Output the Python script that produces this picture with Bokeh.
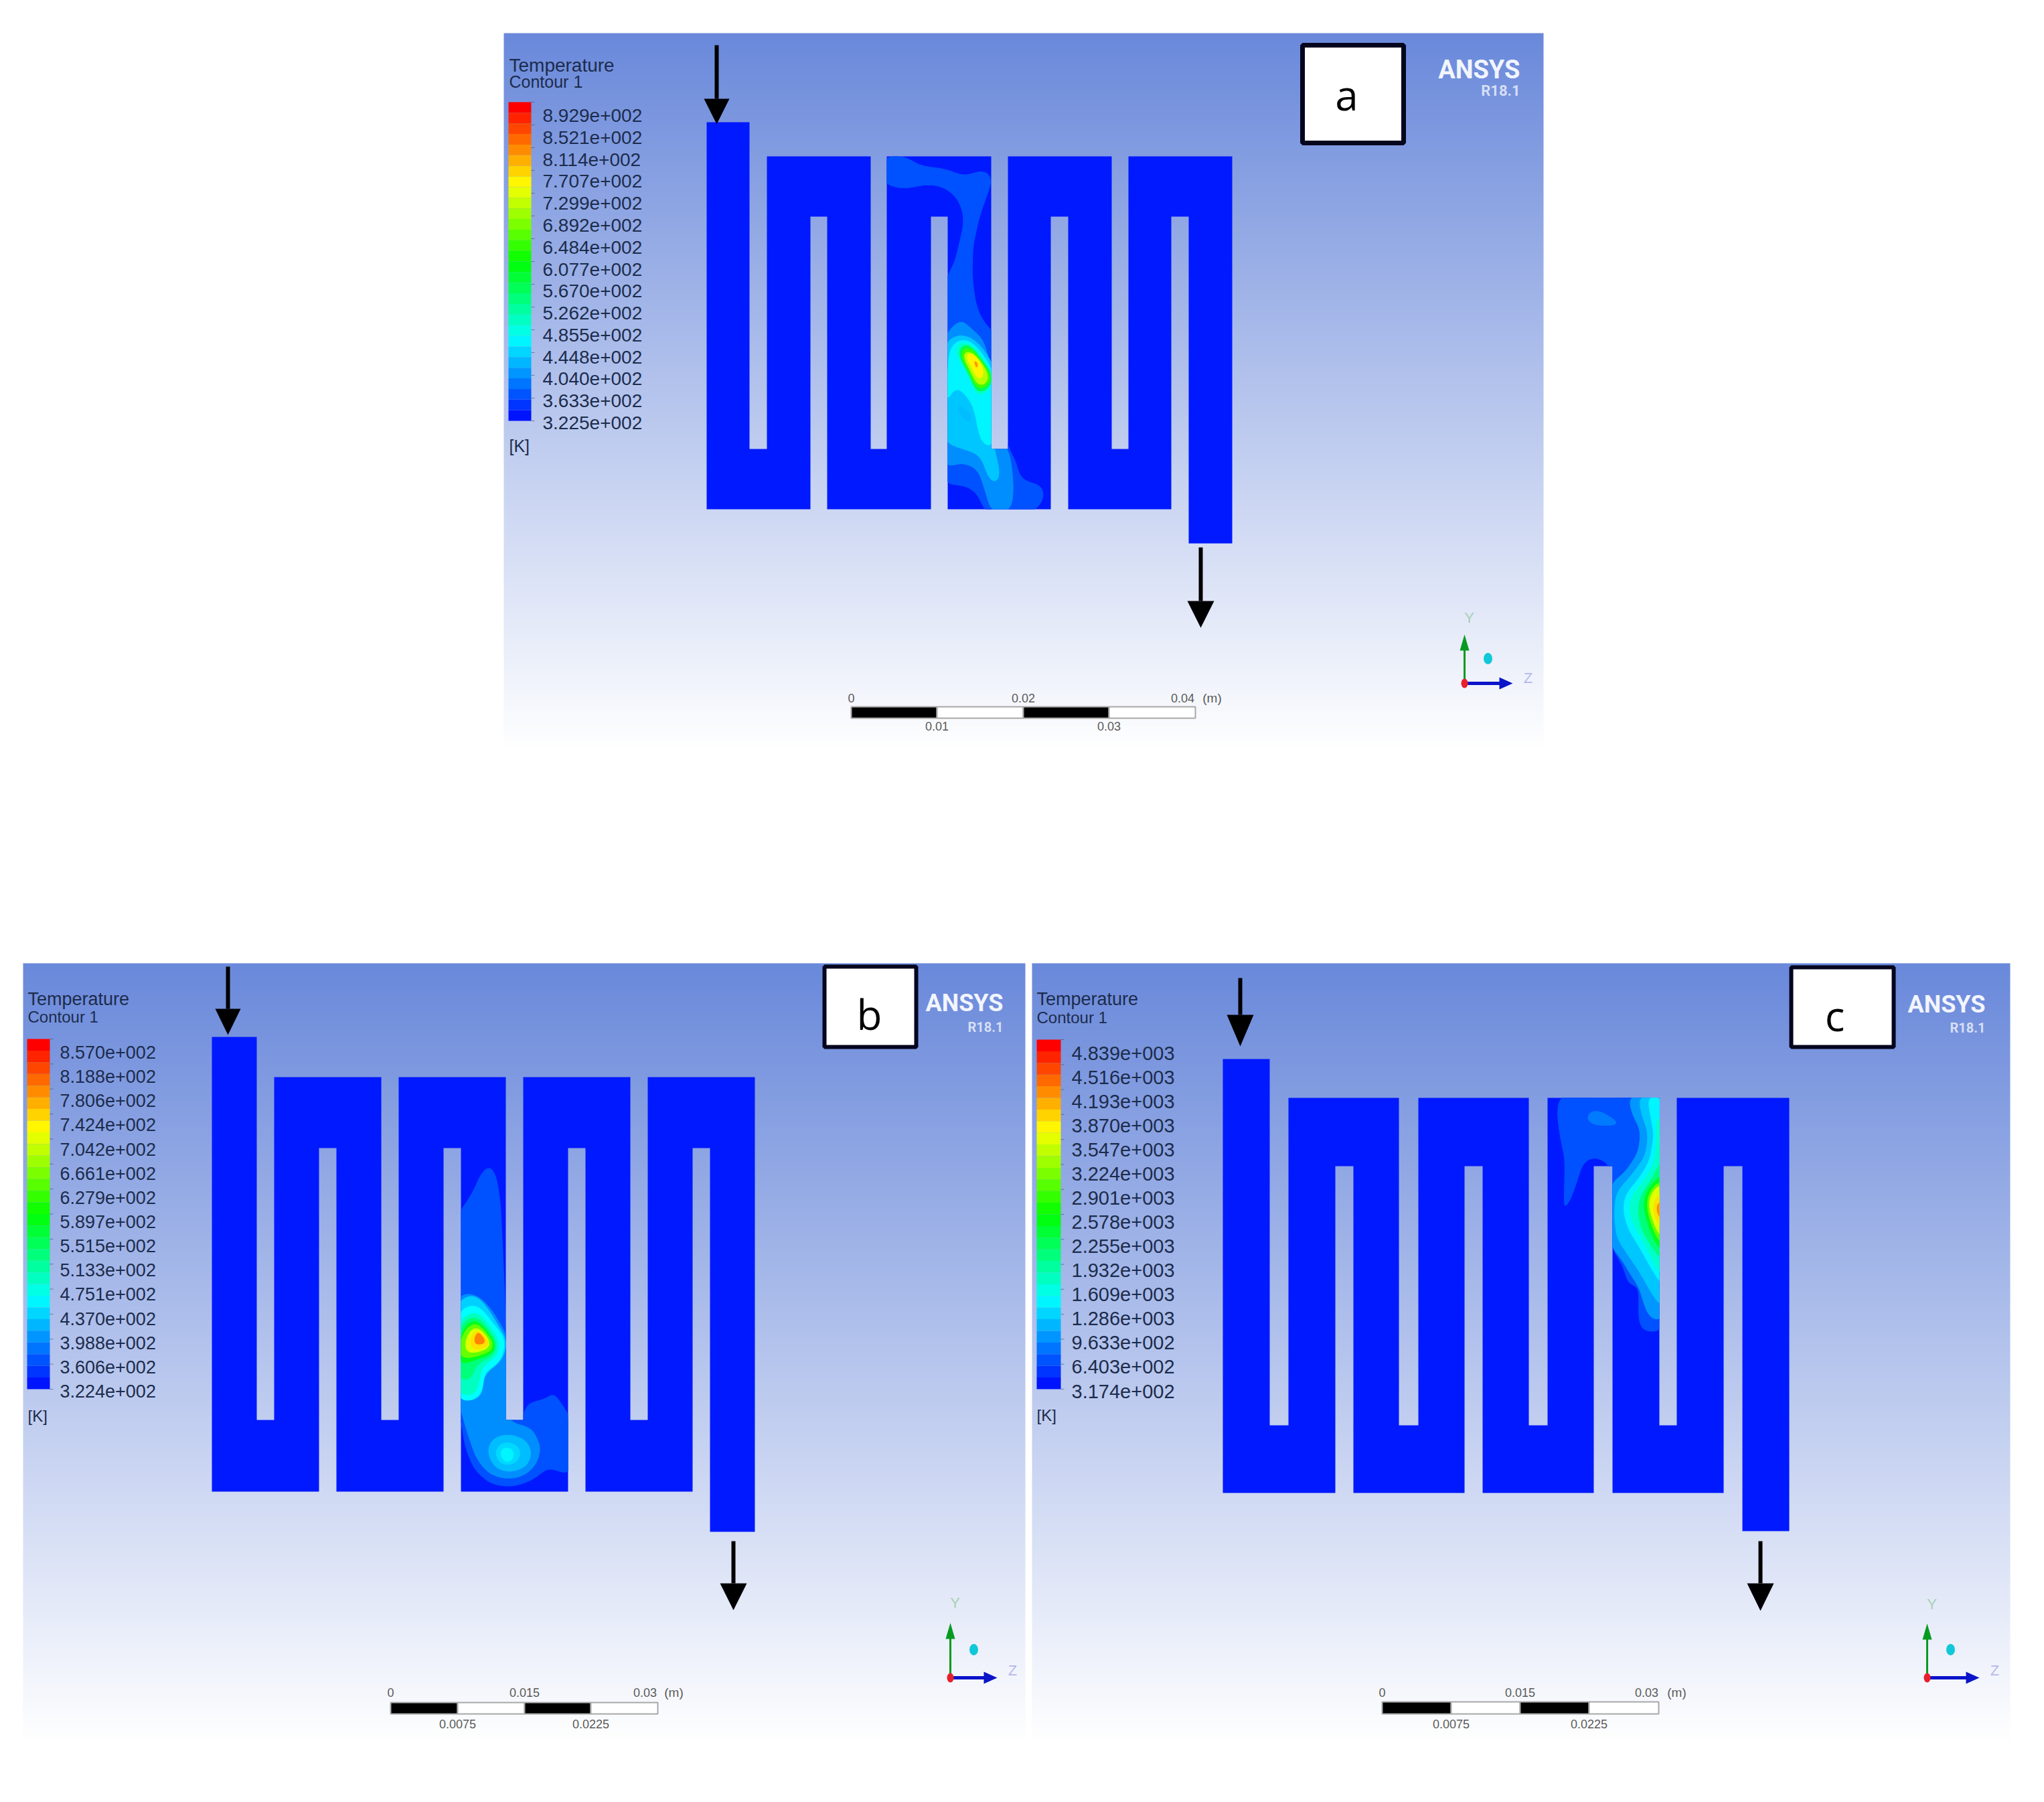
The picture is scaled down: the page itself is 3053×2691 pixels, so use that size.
import numpy as np
from bokeh.embed import file_html
from bokeh.models import Range1d
from bokeh.plotting import figure
from bokeh.resources import INLINE
from bokeh.core.properties import value

W, H = 3053, 2691

# ---------- legend values ----------
A_LABELS = ["8.929e+002","8.521e+002","8.114e+002","7.707e+002","7.299e+002","6.892e+002","6.484e+002","6.077e+002",
            "5.670e+002","5.262e+002","4.855e+002","4.448e+002","4.040e+002","3.633e+002","3.225e+002"]
B_LABELS = ["8.570e+002","8.188e+002","7.806e+002","7.424e+002","7.042e+002","6.661e+002","6.279e+002","5.897e+002",
            "5.515e+002","5.133e+002","4.751e+002","4.370e+002","3.988e+002","3.606e+002","3.224e+002"]
C_LABELS = ["4.839e+003","4.516e+003","4.193e+003","3.870e+003","3.547e+003","3.224e+003","2.901e+003","2.578e+003",
            "2.255e+003","1.932e+003","1.609e+003","1.286e+003","9.633e+002","6.403e+002","3.174e+002"]

# ---------- serpentine channel walls ----------
A_X = [1055,1119,1145,1210,1235,1300,1324,1390,1415,1480,1505,1569,1595,1660,1685,1749,1775,1840]
A_Y = [182,233,323,670,760,811]
B_X = [316,383,409,476,502,569,595,662,688,755,781,848,874,941,967,1034,1060,1127]
B_Y = [1548,1608,1714,2120,2227,2287]
C_X = [1826,1896,1924,1994,2021,2089,2118,2187,2214,2283,2311,2380,2408,2478,2504,2574,2602,2672]
C_Y = [1581,1639,1741,2128,2229,2286]

# ---------- temperature contours: (level 0..1, pen, outline) ----------
ZA1 = (1310, 225, 3)
ZA2 = (1310, 490, 3)
ZB1 = (600, 1700, 1568 / 600)
ZB2 = (680, 1900, 3)
ZC = (2250, 1620, 3)
ABS = (0, 0, 1)

A_BANDS = [
 (0.065, ABS, [(1324,233),(1353,233),(1373,247),(1403,250),(1423,255),(1437,263),(1453,258),(1467,253),(1478,258),(1482,268),
              (1475,288),(1463,322),(1453,368),(1452,412),(1457,452),(1467,478),(1484,495),(1500,600),(1505,668),(1517,687),
              (1523,713),(1540,722),(1550,720),(1560,733),(1558,747),(1550,757),(1543,764),(1470,764),(1460,737),(1443,725),
              (1412,723),(1412,415),(1425,392),(1438,338),(1438,315),(1427,292),(1407,278),(1383,275),(1350,282),(1320,275),(1320,233)]),
 (0.13, ABS, [(1412,698),(1437,690),(1460,700),(1470,730),(1480,764),(1507,764),(1513,745),(1513,717),(1510,690),(1505,668),
              (1485,650),(1484,560),(1468,505),(1450,490),(1435,475),(1425,485),(1412,497)]),
 (0.19, ABS, [(1412,510),(1423,502),(1437,498),(1453,505),(1467,518),(1484,545),(1484,667),(1487,677),(1492,697),(1493,717),
              (1483,723),(1473,707),(1467,687),(1460,677),(1443,672),(1412,662)]),
 (0.24, ZA2, [(312,260),(320,100),(345,60),(380,45),(420,55),(470,110),(520,190),(520,530),(480,530),(455,480),(430,350),(390,290),(350,260),(312,330)]),
 (0.18, ZA2, [(350,350),(380,345),(420,385),(425,420),(400,420),(365,380)]),
 (0.30, ZA2, [(345,110),(355,70),(385,55),(420,65),(465,120),(515,195),(515,250),(490,290),(460,310),(435,290),(415,230),(380,165)]),
 (0.42, ZA2, [(360,105),(375,70),(400,65),(430,85),(465,135),(515,200),(515,250),(480,285),(455,295),(435,270),(410,205),(375,145)]),
 (0.56, ZA2, [(368,110),(385,80),(410,80),(440,105),(480,165),(515,215),(510,245),(475,272),(450,278),(432,250),(412,195),(382,145)]),
 (0.68, ZA2, [(378,110),(405,92),(440,118),(485,178),(505,220),(490,252),(455,265),(435,235),(415,185),(388,142)]),
 (0.76, ZA2, [(390,115),(425,105),(455,140),(480,190),(475,225),(450,235),(430,190),(405,145)]),
 (0.85, ZA2, [(432,145),(447,148),(452,172),(442,178)]),
]
B_BANDS = [
 (0.065, ZB1, [(220,290),(270,220),(310,130),(345,100),(370,150),(385,250),(395,450),(402,610),(412,1098),(472,1098),(480,1040),
              (520,1020),(560,1020),(590,985),(620,1030),(655,1080),(655,1310),(610,1300),(570,1280),(530,1320),(470,1350),
              (410,1360),(340,1345),(280,1290),(245,1200),(220,1040)]),
 (0.13, ZB1, [(220,1030),(220,610),(260,600),(310,620),(360,680),(412,770),(412,1098),(440,1110),(510,1130),(545,1210),(520,1280),
              (470,1320),(410,1330),(340,1310),(290,1250),(255,1150)]),
 (0.18, ZB1, [(330,1220),(350,1170),(410,1150),(480,1170),(510,1220),(490,1280),(420,1305),(360,1285)]),
 (0.21, ZB1, [(360,1225),(375,1190),(415,1180),(455,1195),(470,1230),(450,1265),(410,1280),(375,1265)]),
 (0.24, ZB1, [(380,1230),(395,1205),(420,1205),(440,1225),(430,1255),(405,1265)]),
 (0.20, ZB1, [(220,1020),(220,630),(280,605),(320,640),(360,700),(412,790),(395,860),(350,900),(320,920),(315,1000),(280,1025)]),
 (0.25, ZB2, [(15,170),(50,150),(90,140),(130,175),(170,230),(222,290),(215,370),(180,420),(130,440),(120,540),(80,575),(15,575)]),
 (0.31, ZB2, [(15,215),(50,190),(90,170),(130,205),(165,255),(200,310),(195,360),(165,395),(120,415),(105,500),(90,550),(15,550)]),
 (0.38, ZB2, [(15,250),(50,205),(90,190),(125,225),(165,275),(190,320),(175,370),(130,395),(90,410),(80,470),(40,490),(15,480)]),
 (0.47, ZB2, [(18,290),(50,225),(90,205),(120,235),(160,285),(185,325),(170,365),(120,380),(70,400),(18,415)]),
 (0.60, ZB2, [(18,300),(55,240),(90,218),(120,245),(155,290),(178,325),(160,358),(115,368),(65,385),(18,385)]),
 (0.72, ZB2, [(40,310),(65,255),(92,235),(120,260),(148,295),(165,325),(145,345),(105,355),(65,365),(42,360)]),
 (0.78, ZB2, [(60,310),(80,265),(100,255),(125,275),(150,310),(150,330),(120,340),(80,350)]),
 (0.87, ZB2, [(82,295),(100,262),(130,295),(135,315),(105,325),(85,320)]),
]
C_BANDS = [
 (0.065, ZC, [(235,50),(695,50),(695,1105),(610,1105),(590,1060),(590,895),(545,900),(520,810),(465,720),(465,440),(465,365),
             (450,350),(400,320),(345,340),(320,420),(285,520),(255,560),(260,330),(240,240),(225,130)]),
 (0.11, ZC, [(350,140),(390,105),(450,130),(510,175),(440,185),(370,175)]),
 (0.14, ZC, [(545,50),(695,50),(695,1060),(640,1045),(620,1000),(590,900),(560,860),(520,790),(465,720),(465,440),(530,390),(590,300),(600,200),(560,130)]),
 (0.19, ZC, [(590,50),(695,50),(695,1000),(640,920),(590,830),(540,760),(490,680),(480,570),(490,480),(560,400),(620,320),(635,220),(600,120)]),
 (0.24, ZC, [(630,50),(695,50),(695,900),(640,810),(590,720),(540,640),(520,560),(530,490),(590,420),(640,340),(660,220),(640,120)]),
 (0.30, ZC, [(665,150),(695,130),(695,860),(650,780),(600,680),(555,600),(545,550),(560,490),(620,420),(660,350),(675,220)]),
 (0.38, ZC, [(695,330),(695,790),(645,720),(600,640),(585,560),(600,490),(650,420)]),
 (0.47, ZC, [(695,395),(695,750),(650,680),(625,600),(610,540),(625,470)]),
 (0.60, ZC, [(695,420),(695,720),(660,660),(635,590),(625,530),(640,470)]),
 (0.72, ZC, [(695,435),(695,690),(665,640),(645,580),(632,530),(650,475)]),
 (0.78, ZC, [(695,470),(695,650),(670,610),(655,570),(650,530)]),
 (0.86, ZC, [(695,510),(695,610),(675,580),(668,540)]),
]

# ---------- colour ramp ----------
RAMP_AT = [0, 0.25, 0.5, 0.75, 1]
RAMP_R = [0, 0, 0, 255, 255]
RAMP_G = [20, 255, 255, 255, 0]
RAMP_B = [255, 255, 0, 0, 0]
BLUE = "#0019ff"
TEXT = "#1c2c4c"
GREY = "#5a5a5a"
TOP_RGB = (106, 137, 219)


def ramp(t):
    return "#%02x%02x%02x" % (int(np.interp(t, RAMP_AT, RAMP_R)), int(np.interp(t, RAMP_AT, RAMP_G)), int(np.interp(t, RAMP_AT, RAMP_B)))


def channel_rects(xs, ys):
    inlet, top, slot_top, slot_bot, bottom, outlet = ys
    out = []
    for i in range(9):
        y0 = inlet if i == 0 else top
        y1 = outlet if i == 8 else bottom
        out.append((xs[2 * i], xs[2 * i + 1], y0, y1))
    for i in range(0, 8):
        l, r = xs[2 * i], xs[2 * i + 3]
        out.append((l, r, slot_bot, bottom) if i % 2 == 0 else (l, r, top, slot_top))
    return out


def channel_outline(xs, ys):
    inlet, top, slot_top, slot_bot, bottom, outlet = ys
    pts = [(xs[0], inlet), (xs[1], inlet)]
    for i in (0, 2, 4, 6):
        pts += [(xs[2 * i + 1], slot_bot), (xs[2 * i + 2], slot_bot), (xs[2 * i + 2], top), (xs[2 * i + 5], top)]
    pts += [(xs[17], outlet), (xs[16], outlet), (xs[16], slot_top)]
    for i in (7, 5, 3, 1):
        pts += [(xs[2 * i + 1], slot_top), (xs[2 * i + 1], bottom), (xs[2 * i - 2], bottom), (xs[2 * i - 2], slot_top)]
    pts = pts[:-1] + [(xs[0], bottom)]
    # drop the run-on duplicate between the last bottom edge and the inlet wall
    return pts


def smooth(pts):
    pts = np.array(pts, float)
    closed = np.vstack([pts, pts[:1]])
    seg = np.hypot(*np.diff(closed, axis=0).T)
    s = np.concatenate([[0], np.cumsum(seg)])
    n = max(int(s[-1] / 2), 8)
    u = np.linspace(0, s[-1], n, endpoint=False)
    x, y = np.interp(u, s, closed[:, 0]), np.interp(u, s, closed[:, 1])
    win = max(1, min(5, n // 12))
    k = np.ones(2 * win + 1) / (2 * win + 1)
    for _ in range(2):
        x = np.convolve(np.r_[x[-win:], x, x[:win]], k, "valid")
        y = np.convolve(np.r_[y[-win:], y, y[:win]], k, "valid")
    return list(zip(x, y))


def clip_edge(poly, inside, cross):
    out = []
    for i, cur in enumerate(poly):
        prev = poly[i - 1]
        if inside(cur):
            if not inside(prev):
                out.append(cross(prev, cur))
            out.append(cur)
        elif inside(prev):
            out.append(cross(prev, cur))
    return out


def clip_rect(poly, r):
    x0, x1, y0, y1 = r
    def at_x(v):
        return lambda a, b: (v, a[1] + (b[1] - a[1]) * (v - a[0]) / (b[0] - a[0]))
    def at_y(v):
        return lambda a, b: (a[0] + (b[0] - a[0]) * (v - a[1]) / (b[1] - a[1]), v)
    for inside, cross in [(lambda p: p[0] >= x0, at_x(x0)), (lambda p: p[0] <= x1, at_x(x1)),
                          (lambda p: p[1] >= y0, at_y(y0)), (lambda p: p[1] <= y1, at_y(y1))]:
        if not poly:
            return []
        poly = clip_edge(poly, inside, cross)
    return poly


p = figure(width=W - 16, height=H - 16, output_backend="svg", toolbar_location=None,
           x_range=Range1d(0, W - 16), y_range=Range1d(-(H - 16), 0), min_border=0)
p.axis.visible = False
p.grid.visible = False
p.outline_line_color = None
p.background_fill_color = "white"
p.border_fill_color = "white"

SANS = value("Liberation Sans")


def label(xs, ys, texts, size, color, align="left", font=SANS, style="normal"):
    p.text(x=xs, y=[-v for v in ys], text=texts, text_font=font, text_font_size=value(f"{size}px"), text_color=color,
           text_align=align, text_baseline="middle", text_font_style=style)


def arrow(x, y0, base, tip, half):
    p.segment(x0=[x], y0=[-y0], x1=[x], y1=[-base], line_color="black", line_width=6)
    p.patch(x=[x - half, x + half, x], y=[-base, -base, -tip], fill_color="black", line_color=None)


def panel(box, rects, outline_pts, bands, labels, leg, boxdef, letter, ansys, arrows, bar, bar_labels, triad):
    x0, x1, y0, y1 = box
    n = y1 - y0
    t = np.linspace(0, 1, n)
    rgba = np.zeros((n, 2), dtype=np.uint32)
    view = rgba.view(np.uint8).reshape(n, 2, 4)
    for c in range(3):
        # row 0 of the image is the bottom of the panel
        view[:, :, c] = (255 - (255 - TOP_RGB[c]) * t[:, None]).astype(np.uint8)
    view[:, :, 3] = 255
    p.image_rgba(image=[rgba], x=x0, y=-y1, dw=x1 - x0, dh=y1 - y0)

    p.patch(x=[q[0] for q in outline_pts], y=[-q[1] for q in outline_pts], fill_color=BLUE, fill_alpha=1, line_color=None)

    for lv, (ox, oy, f), pts in bands:
        outline = smooth([(ox + a / f, oy + b / f) for a, b in pts])
        xs, ys = [], []
        for r in rects:
            c = clip_rect(outline, r)
            if len(c) > 2:
                xs.append([q[0] for q in c])
                ys.append([-q[1] for q in c])
        if xs:
            p.patches(xs=xs, ys=ys, fill_color=ramp(lv), fill_alpha=1, line_color=None)

    # legend
    tx, ty1, ty2, cx, bx0, bx1, by0, by1, fs, ky, fs2, fs3 = leg
    label([tx], [ty1], ["Temperature"], fs2, TEXT)
    label([tx], [ty2], ["Contour 1"], fs3, TEXT)
    k = 30
    e = np.linspace(by0, by1, k + 1)
    p.quad(left=[bx0] * k, right=[bx1] * k, top=list(-e[:-1]), bottom=list(-e[1:]),
           fill_color=[ramp(1 - i / (k - 1)) for i in range(k)], line_color=None)
    ly = np.linspace(by0 + 20, by1 + 3, len(labels))
    label([cx] * len(labels), list(ly), labels, fs, TEXT)
    label([tx], [ky], ["[K]"], fs3, TEXT)
    tk = np.linspace(by0, by1, len(labels))
    p.segment(x0=[bx1] * len(tk), y0=list(-tk), x1=[bx1 + 5] * len(tk), y1=list(-tk), line_color="#3c4c70", line_width=1, line_alpha=0.6)

    # tag box
    bl, br, bt, bb, bw = boxdef
    p.quad(left=[bl], right=[br], top=[-bt], bottom=[-bb], fill_color="white", line_color="#05051e", line_width=bw)
    label([letter[1]], [letter[2]], [letter[0]], 62, "black", "center", value("Open Sans"))

    # logo
    ar, ay, ry, afs, rfs = ansys
    label([ar], [ay], ["ANSYS"], afs, "#f2f5fd", "right", value("Roboto"), "bold")
    label([ar], [ry], ["R18.1"], rfs, "#d6dff5", "right", value("Roboto"), "bold")

    for a in arrows:
        arrow(*a)

    # scale bar
    sx, sy0, sy1 = bar
    p.quad(left=sx[:-1], right=sx[1:], top=[-sy0] * 4, bottom=[-sy1] * 4,
           fill_color=["black", "white", "black", "white"], line_color="#a8a8a8", line_width=2)
    ux, uy, lx, ly2, mx = bar_labels
    label([sx[0], sx[2]], [uy, uy], [ux[0], ux[1]], 18, GREY, "center")
    label([lx], [uy], [ux[2]], 18, GREY, "center")
    label([mx], [uy], ["(m)"], 19, GREY, "center")
    label([sx[1], sx[3]], [ly2, ly2], [ux[3], ux[4]], 18, GREY, "center")

    # triad
    vx, vtop, vbot, ztip, yl, zl, cy = triad
    p.segment(x0=[vx], y0=[-vbot], x1=[vx], y1=[-(vtop + 20)], line_color="#089a20", line_width=3)
    p.patch(x=[vx - 7, vx + 7, vx], y=[-(vtop + 24), -(vtop + 24), -vtop], fill_color="#089a20", line_color=None)
    p.segment(x0=[vx], y0=[-vbot], x1=[ztip - 18], y1=[-vbot], line_color="#0a14c8", line_width=5)
    p.patch(x=[ztip - 20, ztip - 20, ztip], y=[-(vbot - 9), -(vbot + 9), -vbot], fill_color="#0a14c8", line_color=None)
    p.ellipse(x=[vx], y=[-vbot], width=10, height=14, fill_color="#e8202c", line_color=None)
    p.ellipse(x=[vx + 35], y=[-cy], width=13, height=17, fill_color="#10c8d8", line_color=None)
    label([vx + 7], [yl], ["Y"], 22, "#a6d0b4", "center")
    label([ztip + 23], [zl], ["Z"], 22, "#b4b8ec", "center")


panel((752, 2305, 49, 1118), channel_rects(A_X, A_Y), channel_outline(A_X, A_Y), A_BANDS, A_LABELS,
      (760, 97, 121, 810, 759, 793, 152, 628, 28, 665, 28, 25),
      (1945, 2096, 67, 213, 7), ("a", 2011, 140), (2270, 103, 135, 38, 22),
      [(1070, 67, 147, 185, 19), (1793, 817, 897, 937, 20)],
      ([1271, 1399, 1528, 1656, 1785], 1055, 1072), (["0", "0.02", "0.04", "0.01", "0.03"], 1042, 1766, 1084, 1810),
      (2187, 947, 1020, 2259, 922, 1012, 983))
panel((34, 1531, 1438, 2600), channel_rects(B_X, B_Y), channel_outline(B_X, B_Y), B_BANDS, B_LABELS,
      (41, 1491, 1518, 89, 40, 74, 1551, 2074, 27, 2114, 27, 24),
      (1231, 1368, 1443, 1563, 6), ("b", 1298, 1513), (1498, 1497, 1533, 36, 20),
      [(340, 1443, 1506, 1545, 19), (1095, 2301, 2364, 2404, 20)],
      ([583, 683, 783, 882, 982], 2542, 2559), (["0", "0.015", "0.03", "0.0075", "0.0225"], 2527, 963, 2574, 1006),
      (1419, 2423, 2505, 1489, 2393, 2494, 2463))
panel((1541, 3002, 1438, 2600), channel_rects(C_X, C_Y), channel_outline(C_X, C_Y), C_BANDS, C_LABELS,
      (1548, 1491, 1519, 1600, 1548, 1584, 1552, 2074, 29, 2113, 27, 24),
      (2675, 2828, 1444, 1563, 6), ("c", 2740, 1515), (2965, 1499, 1534, 36, 20),
      [(1852, 1460, 1515, 1562, 20), (2629, 2301, 2364, 2405, 20)],
      ([2064, 2167, 2270, 2373, 2477], 2541, 2559), (["0", "0.015", "0.03", "0.0075", "0.0225"], 2527, 2459, 2574, 2504),
      (2878, 2424, 2505, 2956, 2395, 2494, 2463))

open("out.html", "w").write(file_html(p, INLINE))
